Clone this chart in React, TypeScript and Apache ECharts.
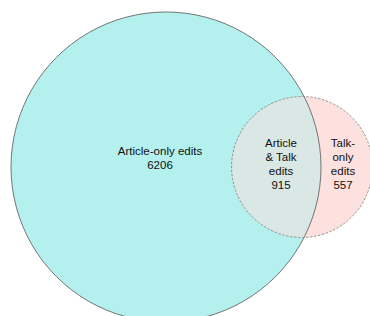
import React, { useEffect, useRef } from "react";
import * as echarts from "echarts";

// Venn data (counts)
const setNames = ["Article-only edits", "Article & Talk edits", "Talk-only edits"];
const articleOnly = 6206;
const both = 915;
const talkOnly = 557;

const labelLines = [
  ["Article-only edits", String(articleOnly)],
  ["Article", "& Talk", "edits", String(both)],
  ["Talk-", "only", "edits", String(talkOnly)],
];

function lensArea(r1: number, r2: number, d: number) {
  if (d >= r1 + r2) return 0;
  if (d <= Math.abs(r1 - r2)) return Math.PI * Math.min(r1, r2) ** 2;
  const a1 = Math.acos((d * d + r1 * r1 - r2 * r2) / (2 * d * r1));
  const a2 = Math.acos((d * d + r2 * r2 - r1 * r1) / (2 * d * r2));
  const t = 0.5 * Math.sqrt((-d + r1 + r2) * (d + r1 - r2) * (d - r1 + r2) * (d + r1 + r2));
  return r1 * r1 * a1 + r2 * r2 * a2 - t;
}

export default function App() {
  const ref = useRef<HTMLDivElement>(null);
  useEffect(() => {
    document.body.style.margin = "0";
    const chart = echarts.init(ref.current!, null, { renderer: "svg" });
    const font = "'Liberation Sans', Arial, Helvetica, sans-serif";
    chart.setOption({
      animation: false,
      backgroundColor: "#ffffff",
      series: [
        {
          type: "custom",
          coordinateSystem: "none",
          silent: true,
          data: [[articleOnly, both, talkOnly]],
          renderItem: (params: any, api: any) => {
            const A = api.value(0) + api.value(1);
            const B = api.value(1) + api.value(2);
            const O = api.value(1);
            const cx1 = 166;
            const cy = 167;
            const r1 = 155;
            const k = r1 / Math.sqrt(A);
            const r2 = k * Math.sqrt(B);
            const target = Math.PI * k * k * O;
            let lo = Math.abs(r1 - r2) + 1e-6;
            let hi = r1 + r2 - 1e-6;
            for (let i = 0; i < 80; i++) {
              const mid = (lo + hi) / 2;
              if (lensArea(r1, r2, mid) > target) lo = mid;
              else hi = mid;
            }
            const d = (lo + hi) / 2;
            const cx2 = cx1 + d;
            const a = (d * d + r1 * r1 - r2 * r2) / (2 * d);
            const h = Math.sqrt(r1 * r1 - a * a);
            const px = cx1 + a;
            const large = px > cx2 ? 1 : 0;
            const pathData =
              `M ${px} ${cy - h} A ${r2} ${r2} 0 ${large} 0 ${px} ${cy + h} ` +
              `A ${r1} ${r1} 0 0 0 ${px} ${cy - h} Z`;
            const textStyle = (x: number, y: number, lines: string[]) => ({
              type: "text",
              style: {
                x,
                y,
                text: lines.join("\n"),
                fill: "#111111",
                font: `11.5px ${font}`,
                align: "center",
                verticalAlign: "middle",
                lineHeight: 14,
              },
            });
            return {
              type: "group",
              children: [
                { type: "circle", shape: { cx: cx1, cy, r: r1 }, style: { fill: "#b3f0ee", stroke: "none" } },
                { type: "circle", shape: { cx: cx2, cy, r: r2 }, style: { fill: "#fde1de", stroke: "none" } },
                { type: "path", shape: { pathData }, style: { fill: "#d9e8e5", stroke: "none" } },
                { type: "circle", shape: { cx: cx1, cy, r: r1 }, style: { fill: "none", stroke: "#666666", lineWidth: 0.9 } },
                {
                  type: "circle",
                  shape: { cx: cx2, cy, r: r2 },
                  style: { fill: "none", stroke: "#888888", lineWidth: 0.9, lineDash: [2.5, 1.5] },
                },
                textStyle(160, 158, labelLines[0]),
                textStyle(281, 164, labelLines[1]),
                textStyle(343, 164, labelLines[2]),
              ],
            };
          },
        },
      ],
    });
    return () => chart.dispose();
  }, []);
  return <div ref={ref} style={{ width: 370, height: 316 }} aria-label={setNames.join(", ")} />;
}
